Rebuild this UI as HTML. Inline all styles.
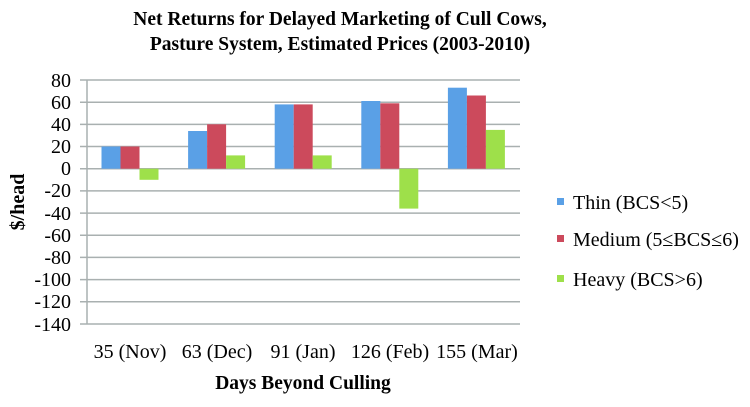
<!DOCTYPE html>
<html><head><style>body{margin:0;background:#fff}svg text{font-family:"Liberation Serif","Times New Roman",serif}</style></head><body>
<svg width="750" height="402" xmlns="http://www.w3.org/2000/svg">
<text x="340" y="25" text-anchor="middle" font-weight="bold" font-size="19.5">Net Returns for Delayed Marketing of Cull Cows,</text>
<text x="340" y="50" text-anchor="middle" font-weight="bold" font-size="19.5">Pasture System, Estimated Prices (2003-2010)</text>
<g stroke="#a9b0b0" stroke-width="1.5">
<line x1="80" x2="520" y1="80" y2="80"/><line x1="80" x2="520" y1="102.2" y2="102.2"/><line x1="80" x2="520" y1="124.4" y2="124.4"/><line x1="80" x2="520" y1="146.5" y2="146.5"/><line x1="80" x2="520" y1="168.7" y2="168.7"/><line x1="80" x2="520" y1="190.9" y2="190.9"/><line x1="80" x2="520" y1="213.1" y2="213.1"/><line x1="80" x2="520" y1="235.3" y2="235.3"/><line x1="80" x2="520" y1="257.4" y2="257.4"/><line x1="80" x2="520" y1="279.6" y2="279.6"/><line x1="80" x2="520" y1="301.8" y2="301.8"/><line x1="80" x2="520" y1="324" y2="324"/>
<line x1="87" x2="87" y1="80" y2="324"/>
</g>
<g font-size="20" text-anchor="end">
<text x="71" y="87">80</text><text x="71" y="109">60</text><text x="71" y="131">40</text><text x="71" y="153">20</text><text x="71" y="175">0</text><text x="71" y="197">-20</text><text x="71" y="220">-40</text><text x="71" y="242">-60</text><text x="71" y="264">-80</text><text x="71" y="286">-100</text><text x="71" y="308">-120</text><text x="71" y="331">-140</text>
</g>
<text transform="translate(24,202) rotate(-90)" text-anchor="middle" font-weight="bold" font-size="20">$/head</text>
<g fill="#5aa0e6">
<rect x="101.5" y="146.5" width="19" height="22.2"/><rect x="188.1" y="131" width="19" height="37.7"/><rect x="274.7" y="104.4" width="19" height="64.3"/><rect x="361.3" y="101" width="19" height="67.7"/><rect x="447.9" y="87.7" width="19" height="81"/>
</g>
<g fill="#cc4a5c">
<rect x="120.5" y="146.5" width="19" height="22.2"/><rect x="207.1" y="124.3" width="19" height="44.4"/><rect x="293.7" y="104.4" width="19" height="64.3"/><rect x="380.3" y="103.3" width="19" height="65.4"/><rect x="466.9" y="95.5" width="19" height="73.2"/>
</g>
<g fill="#9ee04a">
<rect x="139.5" y="168.7" width="19" height="11.1"/><rect x="226.1" y="155.4" width="19" height="13.3"/><rect x="312.7" y="155.4" width="19" height="13.3"/><rect x="399.3" y="168.7" width="19" height="39.9"/><rect x="485.9" y="129.9" width="19" height="38.8"/>
</g>
<g font-size="20" text-anchor="middle">
<text x="130" y="358">35 (Nov)</text><text x="217" y="358">63 (Dec)</text><text x="303" y="358">91 (Jan)</text><text x="390" y="358">126 (Feb)</text><text x="477" y="358">155 (Mar)</text>
</g>
<text x="303" y="389" text-anchor="middle" font-weight="bold" font-size="19.5">Days Beyond Culling</text>
<rect x="557" y="198" width="7" height="7" fill="#5aa0e6"/><text x="573" y="209" font-size="20">Thin (BCS&lt;5)</text>
<rect x="557" y="235" width="7" height="7" fill="#cc4a5c"/><text x="573" y="246" font-size="20">Medium (5≤BCS≤6)</text>
<rect x="557" y="275" width="7" height="7" fill="#9ee04a"/><text x="573" y="286" font-size="20">Heavy (BCS&gt;6)</text>
</svg>
</body></html>
